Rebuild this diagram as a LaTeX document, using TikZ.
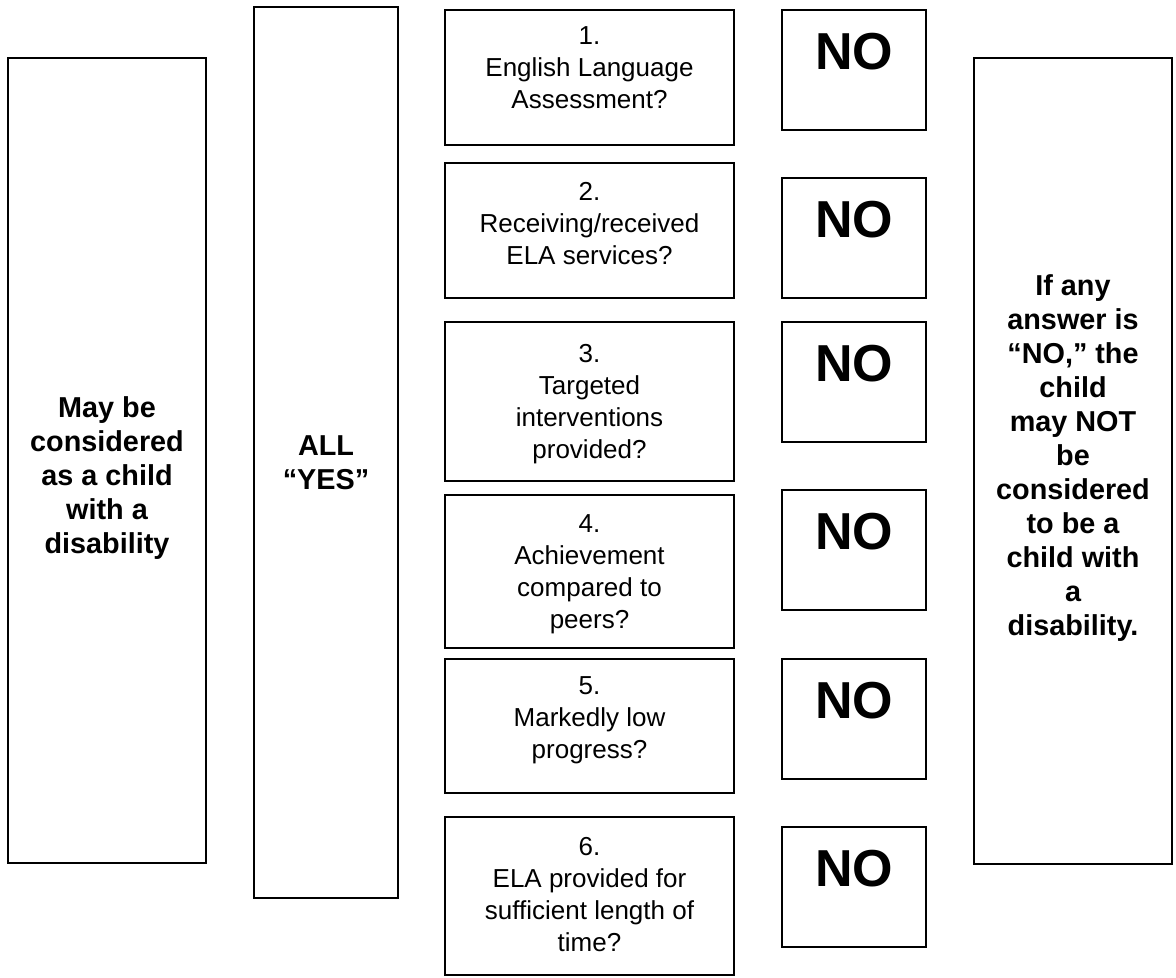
\documentclass[tikz,border=0pt]{standalone}
\usepackage{fontspec}
\setmainfont{Liberation Sans}
\usepackage{tikz}
\usetikzlibrary{positioning}

\begin{document}
\begin{tikzpicture}[x=0.5pt, y=-0.5pt,
  box/.style = {draw, line width=0.8pt, inner sep=0pt},
  qbox/.style = {box, minimum width=144.5pt},
  nobox/.style = {box, minimum width=72pt, minimum height=60pt},
  qtext/.style = {align=center, inner sep=0pt, font=\fontsize{13}{16}\selectfont},
  btext/.style = {align=center, inner sep=0pt, font=\fontsize{14.4}{17}\selectfont\bfseries},
  notext/.style = {inner sep=0pt, font=\fontsize{26}{30}\selectfont\bfseries}]
\useasboundingbox (0,0) rectangle (1176,978);
% outer columns
\node[box, minimum width=99pt, minimum height=402.5pt] (maybe) at (107,460.5) {};
\node[btext] (maybetext) at (107,478) {May be\\considered\\as a child\\with a\\disability};
\node[box, minimum width=72pt, minimum height=445.5pt] (allyes) at (326,452.5) {};
\node[btext] (allyestext) at (326,463) {ALL\\“YES”};
\node[box, minimum width=99pt, minimum height=403pt] (ifno) at (1073,461) {};
\node[btext] (ifnotext) at (1073,458) {If any\\answer is\\“NO,” the\\child\\may NOT\\be\\considered\\to be a\\child with\\a\\disability.};
% questions
\node[qbox, minimum height=67.5pt] (q1) at (589.5,77.5) {};
\node[qtext] at (589.5,68) {1.\\English Language\\Assessment?};
\node[qbox, minimum height=67.5pt] (q2) at (589.5,230.5) {};
\node[qtext] at (589.5,224) {2.\\Receiving/received\\ELA services?};
\node[qbox, minimum height=79.5pt] (q3) at (589.5,401.5) {};
\node[qtext] at (589.5,404) {3.\\Targeted\\interventions\\provided?};
\node[qbox, minimum height=76.5pt] (q4) at (589.5,571.5) {};
\node[qtext] at (589.5,574) {4.\\Achievement\\compared to\\peers?};
\node[qbox, minimum height=67pt] (q5) at (589.5,726) {};
\node[qtext] at (589.5,720) {5.\\Markedly low\\progress?};
\node[qbox, minimum height=79pt] (q6) at (589.5,896) {};
\node[qtext] at (589.5,895) {6.\\ELA provided for\\sufficient length of\\time?};
% answers
\foreach \i/\t in {1/10,2/178,3/322,4/490,5/659,6/827}
{
  \node[nobox] (no\i) at (854,\t+60) {};
  \node[notext] at (854,\t+42) {NO};
}
\end{tikzpicture}
\end{document}
